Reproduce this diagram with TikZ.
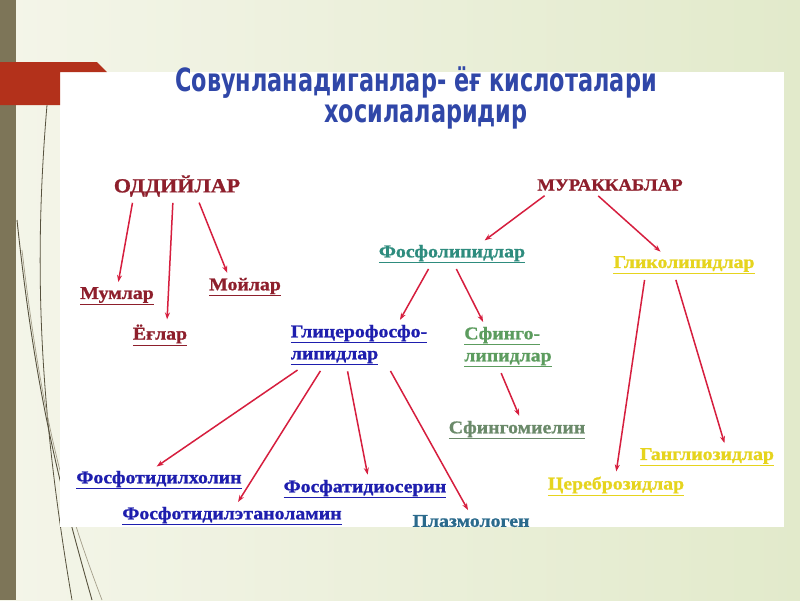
\documentclass[tikz,border=0pt]{standalone}
\usepackage{fontspec}
\usepackage{xcolor}
\usetikzlibrary{arrows.meta}
\setmainfont{Liberation Serif}[BoldFont={Liberation Serif Bold}, BoldFeatures={FakeBold=1}, FakeStretch=1.1]
\newfontfamily\titlefont{DejaVu Sans}[BoldFont={DejaVu Sans Bold}, FakeStretch=0.7]
\definecolor{bgleft}{HTML}{F4F5E9}
\definecolor{bgright}{HTML}{E2EACB}
\definecolor{olive}{HTML}{7D7558}
\definecolor{tabred}{HTML}{B3311B}
\definecolor{arrred}{HTML}{D61E3E}
\definecolor{darkred}{HTML}{8E1F2C}
\definecolor{titleblue}{HTML}{3047A8}
\definecolor{teal}{HTML}{2E8C7E}
\definecolor{deepblue}{HTML}{1E1EAE}
\definecolor{sgreen}{HTML}{5C9C5E}
\definecolor{greygreen}{HTML}{6B8A6A}
\definecolor{lipyellow}{HTML}{E6D41E}
\definecolor{steel}{HTML}{2B6A8C}

\begin{document}
\begin{tikzpicture}[x=1pt, y=-1pt,
    item/.style={inner sep=3pt, font=\bfseries\fontsize{18}{22}\selectfont},
    head/.style={item, text=darkred, font=\bfseries\fontsize{20}{24}\selectfont},
    arr/.style={draw=arrred, line width=1.5pt, -{Stealth[length=7pt,width=5pt]}, shorten <=3pt, shorten >=2pt}]
    \useasboundingbox (0,0) rectangle (800,600);
    % background
    \shade[left color=bgleft, right color=bgright] (0,0) rectangle (800,600);
    \fill[olive] (0,0) rectangle (16,600);
    \draw[olive!70!black, line width=0.8pt] (47,105) .. controls (34,260) and (38,400) .. (72,600);
    \draw[olive!70!black, line width=0.9pt] (17,220) .. controls (35,390) and (58,480) .. (92,600);
    \draw[olive!70, line width=0.7pt] (22,250) .. controls (42,420) and (64,500) .. (102,600);
    \fill[white] (60,72) rectangle (784,527);
    \fill[tabred] (0,62) -- (97,62) -- (107,72) -- (60,72) -- (60,105) -- (0,105) -- cycle;
    % title
    \node[text=titleblue, font=\titlefont\bfseries\fontsize{32}{36}\selectfont] (title1) at (416,83) {Совунланадиганлар- ёғ кислоталари};
    \node[text=titleblue, font=\titlefont\bfseries\fontsize{32}{36}\selectfont] (title2) at (426,117) {хосилаларидир};
    % nodes
    \node[head] (odd) at (177,186) {ОДДИЙЛАР};
    \node[head, font=\bfseries\fontsize{17}{20}\selectfont] (mur) at (610,185) {МУРАККАБЛАР};
    \node[item, text=darkred] (mum) at (117,296) {\underline{Мумлар}};
    \node[item, text=darkred] (egl) at (160,335) {\underline{Ёғлар}};
    \node[item, text=darkred] (moy) at (245,287) {\underline{Мойлар}};
    \node[item, text=teal] (fos) at (452,254) {\underline{Фосфолипидлар}};
    \node[item, text=lipyellow] (gli) at (684,265) {\underline{Гликолипидлар}};
    \node[item, text=deepblue, align=left] (gfl) at (359,345) {\underline{Глицерофосфо-}\\\underline{липидлар}};
    \node[item, text=sgreen, align=left] (sfl) at (508,347) {\underline{Сфинго-}\\\underline{липидлар}};
    \node[item, text=greygreen] (sfm) at (517,430) {\underline{Сфингомиелин}};
    \node[item, text=deepblue] (fxo) at (159,480) {\underline{Фосфотидилхолин}};
    \node[item, text=deepblue] (fet) at (232,516) {\underline{Фосфотидилэтаноламин}};
    \node[item, text=deepblue] (fse) at (365,489) {\underline{Фосфатидиосерин}};
    \node[item, text=steel] (plz) at (471,521) {Плазмологен};
    \node[item, text=lipyellow] (cer) at (616,486) {\underline{Цереброзидлар}};
    \node[item, text=lipyellow] (gan) at (707,457) {\underline{Ганглиозидлар}};
    % arrows
    \draw[arr] ([xshift=-44pt]odd.south) -- ([xshift=1pt]mum.north);
    \draw[arr] ([xshift=-4pt]odd.south) -- ([xshift=7pt]egl.north);
    \draw[arr] ([xshift=21pt]odd.south) -- ([xshift=-17pt]moy.north);
    \draw[arr] ([xshift=-63pt]mur.south) -- ([xshift=31pt]fos.north);
    \draw[arr] ([xshift=-14pt]mur.south) -- ([xshift=-22pt]gli.north);
    \draw[arr] ([xshift=-22pt]fos.south) -- ([xshift=40pt]gfl.north);
    \draw[arr] ([xshift=3pt]fos.south) -- ([xshift=-24pt]sfl.north);
    \draw[arr] ([xshift=-39pt]gli.south) -- ([xshift=0pt]cer.north);
    \draw[arr] ([xshift=-9pt]gli.south) -- ([xshift=18pt]gan.north);
    \draw[arr] ([xshift=-59pt]gfl.south) -- ([xshift=-4pt]fxo.north);
    \draw[arr] ([xshift=-37pt]gfl.south) -- ([xshift=5pt]fet.north);
    \draw[arr] ([xshift=-12pt]gfl.south) -- ([xshift=3pt]fse.north);
    \draw[arr] ([xshift=30pt]gfl.south) -- ([xshift=-2pt]plz.north);
    \draw[arr] ([xshift=-8pt]sfl.south) -- ([xshift=3pt]sfm.north);
\end{tikzpicture}
\end{document}
